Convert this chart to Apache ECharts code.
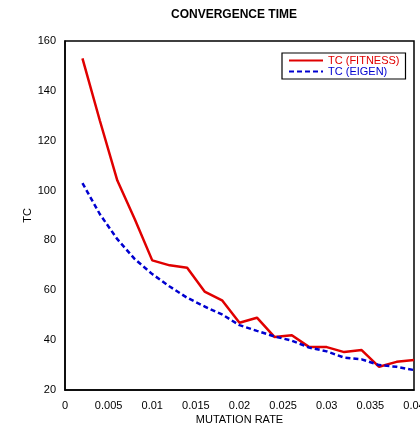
<!DOCTYPE html>
<html>
<head>
<meta charset="utf-8">
<script src="https://cdn.jsdelivr.net/npm/echarts@6/dist/echarts.min.js"></script>
<style>
html,body{margin:0;padding:0;background:#fff;}
#chart{width:420px;height:429px;}
</style>
</head>
<body>
<div id="chart"></div>
<script>
var mutationRate = [0.002,0.004,0.006,0.008,0.010,0.012,0.014,0.016,0.018,0.020,0.022,0.024,0.026,0.028,0.030,0.032,0.034,0.036,0.038,0.040];
var tcFitness = [153,128,104,88.5,72,70,69,59.5,56,47,49,41.3,42,37.2,37.2,35.2,36,29.3,31.3,32];
var tcEigen = [103,90.5,80.5,72.5,66.5,61.5,57,53.5,50.3,46,43.7,41.5,39.8,37,35.5,33,32.3,30,29.3,28];
var xTicks = {min:0, max:0.04, step:0.005};
var yTicks = {min:20, max:160, step:20};

function pairs(xs, ys){
	var out = [];
	for (var i = 0; i < xs.length; i++) out.push([xs[i], ys[i]]);
	return out;
}

var chart = echarts.init(document.getElementById('chart'));
var font = 'Liberation Sans, Arial, sans-serif';
option = {
	animation: false,
	title: {
		text: 'CONVERGENCE TIME',
		left: 166,
		top: 4,
		textStyle: {fontFamily: font, fontSize: 12, fontWeight: 'bold', color: '#000'}
	},
	legend: {
		orient: 'vertical',
		left: 282,
		top: 53,
		padding: [2, 6, 2, 6],
		itemWidth: 34,
		itemHeight: 10,
		itemGap: 0,
		borderColor: '#000',
		borderWidth: 1.2,
		itemStyle: {opacity: 0},
		textStyle: {fontFamily: font, fontSize: 11},
		data: [
			{name: 'TC (FITNESS)', textStyle: {color: '#e00000'}},
			{name: 'TC (EIGEN)', textStyle: {color: '#0000d0'}}
		]
	},
	grid: {
		left: 65, right: 6, top: 41, bottom: 39,
		outerBoundsMode: 'none',
		containLabel: false,
		show: true, borderColor: '#000', borderWidth: 1.5
	},
	xAxis: {
		type: 'value',
		min: xTicks.min, max: xTicks.max, interval: xTicks.step,
		name: 'MUTATION RATE',
		nameLocation: 'middle',
		nameGap: 24,
		nameMoveOverlap: false,
		nameTextStyle: {fontFamily: font, fontSize: 11, color: '#000'},
		axisLine: {lineStyle: {color: '#000', width: 1.5}},
		axisTick: {show: false},
		splitLine: {show: false},
		axisLabel: {fontFamily: font, fontSize: 11, color: '#000', margin: 10}
	},
	yAxis: {
		type: 'value',
		min: yTicks.min, max: yTicks.max, interval: yTicks.step,
		name: 'TC',
		nameLocation: 'middle',
		nameGap: 32,
		nameMoveOverlap: false,
		nameTextStyle: {fontFamily: font, fontSize: 11, color: '#000'},
		axisLine: {show: true, lineStyle: {color: '#000', width: 1.5}},
		axisTick: {show: false},
		splitLine: {show: false},
		axisLabel: {fontFamily: font, fontSize: 11, color: '#000', margin: 9}
	},
	series: [
		{
			name: 'TC (FITNESS)',
			type: 'line',
			symbol: 'none',
			data: pairs(mutationRate, tcFitness),
			itemStyle: {color: '#e00000'},
			lineStyle: {color: '#e00000', width: 2.5}
		},
		{
			name: 'TC (EIGEN)',
			type: 'line',
			symbol: 'none',
			data: pairs(mutationRate, tcEigen),
			itemStyle: {color: '#0000d0'},
			lineStyle: {color: '#0000d0', width: 2.5, type: [5, 3]}
		}
	]
};
chart.setOption(option);
</script>
</body>
</html>
